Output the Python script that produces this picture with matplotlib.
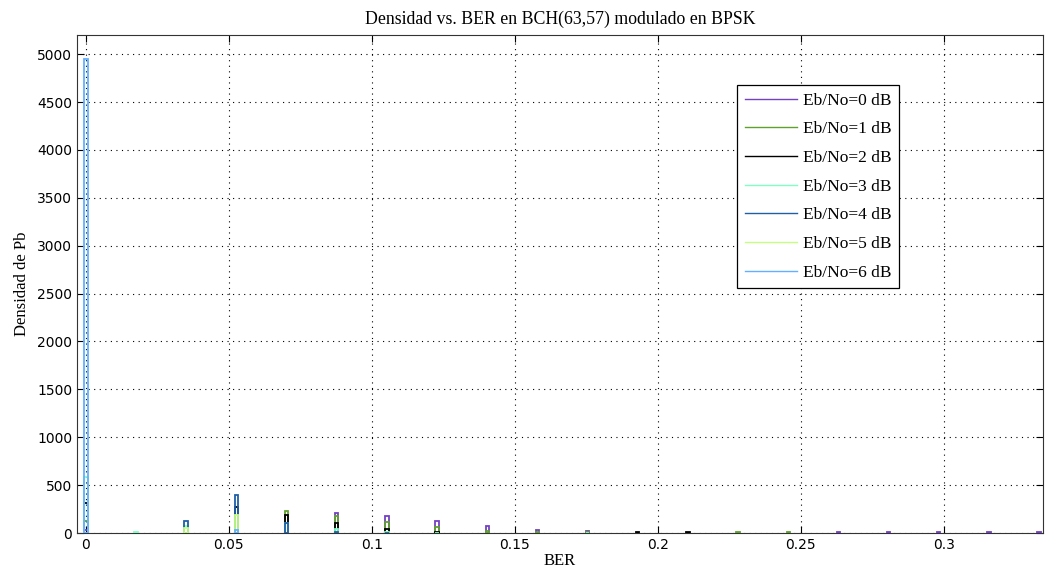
import numpy as np
import matplotlib
matplotlib.use("Agg")
import matplotlib.pyplot as plt
from matplotlib.lines import Line2D

# BER bins (k/57)
ber = [k / 57 for k in range(20)]

labels = ["Eb/No=0 dB", "Eb/No=1 dB", "Eb/No=2 dB", "Eb/No=3 dB",
          "Eb/No=4 dB", "Eb/No=5 dB", "Eb/No=6 dB"]
colors = ["#7440C4", "#5FA02E", "#000000", "#7FFFC4", "#1F5FA6", "#C4FF80", "#62B0FF"]

dens_0 = [30, 0, 0, 0, 0, 210, 180, 125, 73, 31, 20, 0, 0, 0, 0, 8, 8, 8, 8, 8]
dens_1 = [125, 0, 0, 0, 230, 180, 115, 60, 20, 10, 10, 0, 0, 10, 8, 0, 0, 0, 0, 0]
dens_2 = [310, 0, 0, 270, 190, 105, 40, 10, 0, 0, 0, 10, 10, 0, 0, 0, 0, 0, 0, 0]
dens_3 = [580, 10, 73, 0, 100, 40, 10, 5, 0, 0, 5, 0, 0, 0, 0, 0, 0, 0, 0, 0]
dens_4 = [0, 0, 125, 397, 100, 15, 5, 0, 0, 0, 0, 0, 0, 0, 0, 0, 0, 0, 0, 0]
dens_5 = [0, 0, 50, 188, 0, 0, 0, 0, 0, 0, 0, 0, 0, 0, 0, 0, 0, 0, 0, 0]
dens_6 = [4950, 0, 0, 30, 0, 0, 0, 0, 0, 0, 0, 0, 0, 0, 0, 0, 0, 0, 0, 0]
series = [dens_0, dens_1, dens_2, dens_3, dens_4, dens_5, dens_6]

xticks = [0, 0.05, 0.1, 0.15, 0.2, 0.25, 0.3]
xticklabels = ["0", "0.05", "0.1", "0.15", "0.2", "0.25", "0.3"]
yticks = list(range(0, 5001, 500))

fig = plt.figure(figsize=(10.49, 5.81), dpi=100)
ax = fig.add_axes([0.0734, 0.0826, 0.9209, 0.8572])

x = np.array(ber)
for vals, c in zip(series, colors):
    v = np.array(vals, dtype=float)
    m = v > 0
    ax.bar(x[m], v[m], width=0.0012, fill=False, edgecolor=c, linewidth=1.3, zorder=3)

ax.set_xlim(-0.0031, 0.3347)
ax.set_ylim(0, 5200)
ax.set_xticks(xticks)
ax.set_xticklabels(xticklabels)
ax.set_yticks(yticks)
ax.grid(True, color="black", linestyle=(0, (1, 4)), linewidth=0.8)
ax.tick_params(direction="in", top=True, right=True, length=5, labelsize=10)
for lab in ax.get_xticklabels() + ax.get_yticklabels():
    lab.set_family("DejaVu Sans")
for s in ax.spines.values():
    s.set_color("#333333")

serif = "Liberation Serif"
ax.set_title("Densidad vs. BER en BCH(63,57) modulado en BPSK", fontfamily=serif, fontsize=12.8, pad=8)
ax.set_xlabel("BER", fontfamily=serif, fontsize=12, labelpad=1)
ax.set_ylabel("Densidad de Pb", fontfamily=serif, fontsize=12, labelpad=5)

handles = [Line2D([0], [0], color=c, linewidth=1.0) for c in colors]
leg = ax.legend(handles, labels, loc="upper left", bbox_to_anchor=(0.683, 0.90),
                prop={"family": serif, "size": 12.5}, fancybox=False, framealpha=1,
                edgecolor="black", handlelength=3.0, labelspacing=0.72, borderpad=0.45,
                handletextpad=0.35, borderaxespad=0)
leg.get_frame().set_linewidth(0.9)

fig.savefig("out.png", dpi=100)
